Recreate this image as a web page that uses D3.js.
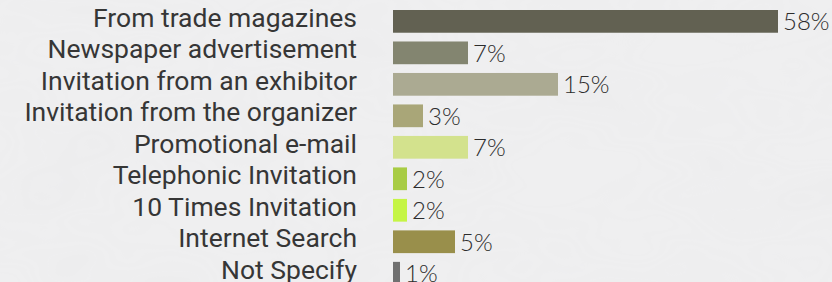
<!DOCTYPE html>
<html>
<head>
<meta charset="utf-8">
<script src="https://cdn.jsdelivr.net/npm/d3@7/dist/d3.min.js"></script>
<style>
  html, body { margin: 0; padding: 0; background: #efeff0; }
  svg { display: block; }
</style>
</head>
<body>
<div id="chart"></div>
<script>
const categories = [
  "From trade magazines",
  "Newspaper advertisement",
  "Invitation from an exhibitor",
  "Invitation from the organizer",
  "Promotional e-mail",
  "Telephonic Invitation",
  "10 Times Invitation",
  "Internet Search",
  "Not Specify"
];
const values = [58, 7, 15, 3, 7, 2, 2, 5, 1];
const colors = ["#626152", "#838570", "#abaa92", "#a9a678", "#d3e28d", "#a8cc44", "#c5f545", "#998f4b", "#707070"];

const W = 832, H = 282;
const svg = d3.select("#chart").append("svg").attr("width", W).attr("height", H);

// soft marble-like background
const defs = svg.append("defs");
const f = defs.append("filter").attr("id", "marble").attr("x", 0).attr("y", 0).attr("width", "100%").attr("height", "100%");
f.append("feTurbulence").attr("type", "fractalNoise").attr("baseFrequency", "0.006 0.012").attr("numOctaves", 3).attr("seed", 7).attr("result", "n");
f.append("feColorMatrix").attr("in", "n").attr("type", "matrix")
  .attr("values", "0 0 0 0 0.5  0 0 0 0 0.5  0 0 0 0 0.51  0.18 0 0 0 -0.06").attr("result", "c");
svg.append("rect").attr("width", W).attr("height", H).attr("fill", "#efeff0");
svg.append("rect").attr("width", W).attr("height", H).attr("filter", "url(#marble)").attr("opacity", 0.35);

const x0 = 393;
const x = d3.scaleLinear().domain([0, 2, 5, 7, 15, 58]).range([0, 14, 62, 75, 165, 385]);
const y = d3.scaleBand().domain(categories).range([10, 284.6]).paddingInner(0.278).paddingOuter(0);

const g = svg.append("g");
const rows = g.selectAll("g.row").data(categories).join("g").attr("class", "row");

rows.append("rect")
  .attr("x", x0)
  .attr("y", d => y(d))
  .attr("width", (d, i) => x(values[i]))
  .attr("height", y.bandwidth())
  .attr("fill", (d, i) => colors[i]);

rows.append("text")
  .attr("x", 357)
  .attr("y", d => y(d) + y.bandwidth() / 2 + 5.5)
  .attr("text-anchor", "end")
  .attr("font-family", "Roboto, sans-serif")
  .attr("font-size", 26.5)
  .attr("fill", "#363636")
  .text(d => d);

rows.append("text")
  .attr("x", (d, i) => x0 + x(values[i]) + 5)
  .attr("y", d => y(d) + y.bandwidth() / 2 + 9)
  .attr("font-family", "Lato, sans-serif")
  .attr("font-weight", 300)
  .attr("font-size", 24)
  .attr("fill", "#2c2c2c")
  .text((d, i) => values[i] + "%");
</script>
</body>
</html>
